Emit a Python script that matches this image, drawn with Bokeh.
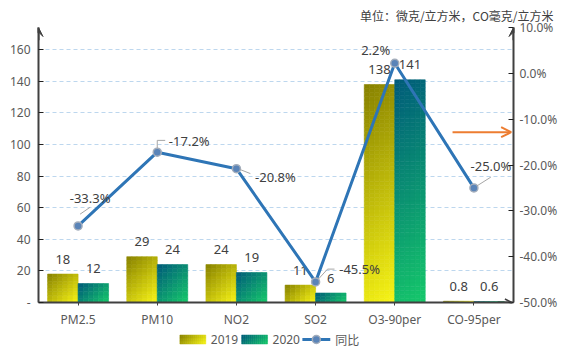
import numpy as np
from bokeh.plotting import figure
from bokeh.layouts import column
from bokeh.models import (ColumnDataSource, Range1d, LinearAxis, FixedTicker, Arrow,
                          VeeHead, OpenHead, Title)
from bokeh.core.properties import value
from bokeh.embed import file_html
from bokeh.resources import INLINE

# ---------------- data ----------------
categories = ["PM2.5", "PM10", "NO2", "SO2", "O3-90per", "CO-95per"]
values_2019 = [18, 29, 24, 11, 138, 0.8]
values_2020 = [12, 24, 19, 6, 141, 0.6]
yoy_pct = [-33.3, -17.2, -20.8, -45.5, 2.2, -25.0]
left_ticks = [0, 20, 40, 60, 80, 100, 120, 140, 160]
right_ticks = [-50, -40, -30, -20, -10, 0, 10]
series_names = ["2019", "2020", "同比"]
unit_title = "单位：微克/立方米，CO毫克/立方米"

# ---------------- layout / style ----------------
W, H = 560, 330
LEG_H = 20
FRAME_W, FRAME_H = 477, 280
BL, BT = 38, 26
LEFT_MAX = 174.1
PCT_MIN, PCT_MAX = -50, 10
BAR_W = 0.385
PX_X = FRAME_W / len(categories)
PX_Y = FRAME_H / LEFT_MAX
PX_P = FRAME_H / (PCT_MAX - PCT_MIN)
FONT = value("Noto Sans")
CJK = "Noto Sans CJK SC"
TXT = "#404040"
AX = "#595959"
LINE_C = "#2e75b6"
DARK19, LIGHT19 = "#878100", "#f8f516"
DARK20, LIGHT20 = "#005a7a", "#16c96a"

p = figure(width=W, height=H, output_backend="svg", toolbar_location=None,
           x_range=Range1d(-0.5, len(categories) - 0.5), y_range=Range1d(0, LEFT_MAX),
           min_border_left=BL, min_border_right=W - BL - FRAME_W,
           min_border_top=BT, min_border_bottom=H - BT - FRAME_H,
           background_fill_color="white", border_fill_color="white")
p.outline_line_color = None
p.extra_y_ranges = {"pct": Range1d(PCT_MIN, PCT_MAX)}

t = Title(text=unit_title, align="right", text_font=CJK, text_font_size="12px",
          text_color=TXT, text_font_style="normal", offset=-40, standoff=8)
p.add_layout(t, "above")

# ---------------- gradient helpers ----------------
def hex2rgb(h):
    h = h.lstrip("#")
    return np.array([int(h[i:i + 2], 16) for i in (0, 2, 4)], dtype=float)

def mix(dark, light, tt):
    c = hex2rgb(dark) + (hex2rgb(light) - hex2rgb(dark)) * tt
    return "#%02x%02x%02x" % tuple(int(round(k)) for k in c)

def grad_rect(x0, x1, y0, y1, w_px, h_px, dark, light, out, nx=6, row_px=4):
    ny = max(1, int(np.ceil(h_px / row_px)))
    for a in range(nx):
        for b in range(ny):
            fx, fy = (a + 0.5) / nx, (b + 0.5) / ny
            tt = (fx * w_px + (1 - fy) * h_px) / (w_px + h_px)
            out["left"].append(x0 + (x1 - x0) * a / nx)
            out["right"].append(x0 + (x1 - x0) * (a + 1) / nx)
            out["bottom"].append(y0 + (y1 - y0) * b / ny)
            out["top"].append(y0 + (y1 - y0) * (b + 1) / ny)
            out["color"].append(mix(dark, light, tt))

def bar_cells(vals, side, dark, light):
    out = dict(left=[], right=[], bottom=[], top=[], color=[])
    for i, v in enumerate(vals):
        x0 = i - BAR_W if side == 0 else i
        grad_rect(x0, x0 + BAR_W, 0, v, BAR_W * PX_X, v * PX_Y, dark, light, out)
    return ColumnDataSource(out)

for vals, side, dk, lt in [(values_2019, 0, DARK19, LIGHT19), (values_2020, 1, DARK20, LIGHT20)]:
    p.quad(left="left", right="right", bottom="bottom", top="top", fill_color="color",
           line_color="color", line_width=0.6, source=bar_cells(vals, side, dk, lt))

# bar value labels
idx = list(range(len(categories)))
bl = ColumnDataSource(dict(
    x=[i - BAR_W / 2 for i in idx] + [i + BAR_W / 2 for i in idx],
    y=values_2019 + values_2020,
    t=[f"{v:g}" for v in values_2019 + values_2020]))
p.text(x="x", y="y", text="t", source=bl, text_align="center", text_baseline="middle",
       y_offset=-15, text_font=FONT, text_font_size="13px", text_color=TXT)

# ---------------- YoY line ----------------
p.line(idx, yoy_pct, y_range_name="pct", line_color=LINE_C, line_width=3)
p.scatter(idx, yoy_pct, y_range_name="pct", size=8, fill_color="#5a84b8",
          line_color="#a3adbb", line_width=1.5)

leaders = [[(2, -12), (12, -19)],
           [(0, -4), (0, -12), (8, -12)],
           [(4, 1), (14, 5)],
           [(3, -3), (12, -13), (19, -13)],
           [],
           [(3, -2), (17, -11)]]
lx, ly = [], []
for i, pts in enumerate(leaders):
    if pts:
        lx.append([i + ox / PX_X for ox, oy in pts])
        ly.append([yoy_pct[i] - oy / PX_P for ox, oy in pts])
p.multi_line(lx, ly, y_range_name="pct", line_color="#a6a6a6", line_width=1)

lab_dx = [12, 32, 39, 44, -19, 17]
lab_dy = [-28, -11, 8, -13, -13, -22]
ls = ColumnDataSource(dict(x=idx, y=yoy_pct, t=[f"{v:.1f}%" for v in yoy_pct],
                           dx=lab_dx, dy=lab_dy))
p.text(x="x", y="y", text="t", source=ls, y_range_name="pct", x_offset="dx", y_offset="dy",
       text_align="center", text_baseline="middle", text_font=FONT,
       text_font_size="13px", text_color=TXT)

p.add_layout(Arrow(end=OpenHead(size=10, line_color="#ed7d31", line_width=2),
                   x_start=4.73, y_start=-12.85, x_end=5.47, y_end=-12.85,
                   y_range_name="pct", line_color="#ed7d31", line_width=2))

# ---------------- axes ----------------
p.xaxis.ticker = FixedTicker(ticks=idx)
p.xaxis.major_label_overrides = {i: c for i, c in enumerate(categories)}
p.xaxis.major_tick_in = 0
p.xaxis.major_tick_out = 3
p.xaxis.minor_tick_line_color = None
p.xaxis.major_label_standoff = 5
p.xaxis.axis_line_width = 2
p.xaxis.axis_line_color = "#404040"
p.xaxis.major_tick_line_color = "#404040"

p.yaxis.ticker = FixedTicker(ticks=left_ticks)
p.yaxis.major_label_overrides = {0: "-"}
p.yaxis.major_tick_in = 5
p.yaxis.major_tick_out = 0
p.yaxis.minor_tick_line_color = None
p.yaxis.major_label_standoff = 8

ra = LinearAxis(y_range_name="pct", ticker=FixedTicker(ticks=right_ticks),
                major_label_overrides={v: f"{v:.1f}%" for v in right_ticks})
ra.major_tick_in = 5
ra.major_tick_out = 0
ra.minor_tick_line_color = None
ra.major_label_standoff = 6
p.add_layout(ra, "right")

for ax in [p.yaxis[0], ra]:
    ax.axis_line_width = 2
    ax.axis_line_color = "#404040"
    ax.major_tick_line_color = "#202020"
for ax in [p.xaxis[0], p.yaxis[0], ra]:
    ax.major_label_text_font = "Noto Sans"
    ax.major_label_text_font_size = "12px"
    ax.major_label_text_color = AX

for xa in (-0.5, len(categories) - 0.5):
    p.add_layout(Arrow(end=VeeHead(size=9, fill_color="#404040", line_color="#404040"),
                       x_start=xa, y_start=LEFT_MAX - 8, x_end=xa, y_end=LEFT_MAX,
                       line_color="#404040", line_width=2))
p.add_layout(Arrow(end=OpenHead(size=7, line_color="#404040", line_width=1.5),
                   x_start=len(categories) - 0.7, y_start=0, x_end=len(categories) - 0.52,
                   y_end=0, line_color="#404040", line_width=2))

p.xgrid.grid_line_color = None
p.ygrid.ticker = FixedTicker(ticks=left_ticks[1:])
p.ygrid.grid_line_color = "#bdd7ee"
p.ygrid.grid_line_dash = "4 3"
p.ygrid.grid_line_width = 1

# ---------------- legend (separate strip; its frame is aligned with the chart frame) ----------------
lg = figure(width=W, height=LEG_H, output_backend="svg", toolbar_location=None,
            x_range=Range1d(BL, BL + FRAME_W), y_range=Range1d(0, LEG_H), min_border=0,
            background_fill_color="white", border_fill_color="white")
lg.axis.visible = False
lg.grid.grid_line_color = None
lg.outline_line_color = None

SW_W, SW_H, CY = 26, 9, LEG_H - 9
sw_x = [180, 242, 303]
cells = dict(left=[], right=[], bottom=[], top=[], color=[])
for x0, (dk, lt) in zip(sw_x[:2], [(DARK19, LIGHT19), (DARK20, LIGHT20)]):
    grad_rect(x0, x0 + SW_W, CY - SW_H / 2, CY + SW_H / 2, SW_W, SW_H, dk, lt, cells,
              nx=13, row_px=3)
lg.quad(left="left", right="right", bottom="bottom", top="top", fill_color="color",
        line_color="color", line_width=0.5, source=ColumnDataSource(cells))
lg.segment(x0=[sw_x[2]], y0=[CY], x1=[sw_x[2] + 28], y1=[CY], line_color=LINE_C, line_width=3)
lg.scatter(x=[sw_x[2] + 14], y=[CY], size=8, fill_color="#5a84b8",
           line_color="#a3adbb", line_width=1.5)
lg.text(x=[x + 31 for x in sw_x[:2]], y=[CY] * 2, text=series_names[:2], text_baseline="middle",
        text_align="left", text_font=FONT, text_font_size="12px", text_color=AX)
lg.text(x=[sw_x[2] + 33], y=[CY], text=series_names[2:], text_baseline="middle",
        text_align="left", text_font=value(CJK), text_font_size="12px", text_color=AX)

open("out.html", "w").write(file_html(column(p, lg, spacing=0), INLINE))
